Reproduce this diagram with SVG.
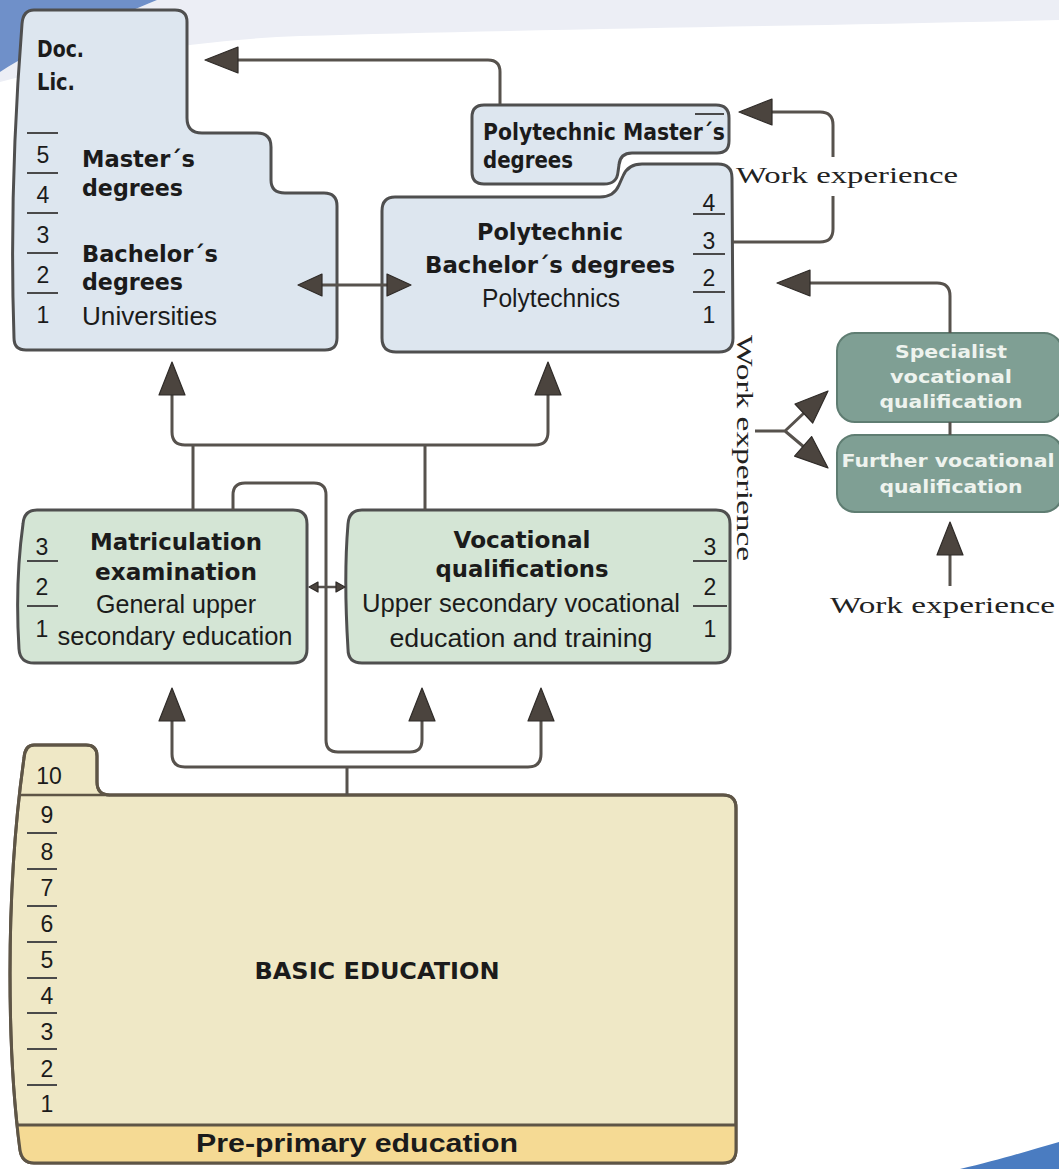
<svg xmlns="http://www.w3.org/2000/svg" xmlns:xlink="http://www.w3.org/1999/xlink" width="1059" height="1169" viewBox="0 0 1059 1169">
  <style>
    .box { stroke: #4f4f4f; stroke-width: 3; stroke-linejoin: round; }
    .uni { fill: #dde6ef; }
    .sec { fill: #d4e5d5; }
    .voc2 { fill: #7f9f94; stroke: #5f7d72; stroke-width: 2; }
    .basic { fill: #efe8c6; stroke: #5e5546; stroke-width: 3; }
    .tick { stroke: #4a4a4a; stroke-width: 2; }
    .con { fill: none; stroke: #57524d; stroke-width: 3; stroke-linejoin: round; }
    .head { fill: #4b443e; stroke: #2f2b28; stroke-width: 1.2; stroke-linejoin: round; }
    .b { font-family: "DejaVu Sans", "Liberation Sans", sans-serif; font-weight: bold; font-size: 23px; fill: #1b1b1b; }
    .r { font-family: "Liberation Sans", "DejaVu Sans", sans-serif; font-size: 26px; fill: #1b1b1b; }
    .n { font-family: "Liberation Sans", "DejaVu Sans", sans-serif; font-size: 23px; fill: #1b1b1b; text-anchor: middle; }
    .w { font-family: "DejaVu Sans", "Liberation Sans", sans-serif; font-weight: bold; font-size: 18px; fill: #eef3ee; text-anchor: middle; }
    .s { font-family: "Liberation Serif", "DejaVu Serif", serif; font-size: 23px; fill: #222; }
    .mid { text-anchor: middle; }
  </style>
  <defs>
    <!-- arrowheads, tip at the origin, pointing along +x -->
    <path id="ah" d="M0,0 L-33,-13 L-33,13 Z"/>
    <path id="ahm" d="M0,0 L-24,-11 L-24,11 Z"/>
    <path id="ahs" d="M0,0 L-9,-5 L-9,5 Z"/>
    <path id="basicShape" d="M34,745 L86,745 Q97,745 97,756 L97,782 Q97,795 110,795 L723,795 Q736,795 736,808 L736,1150 Q736,1163 723,1163 L34,1163 Q22,1163 20,1150 C8,1060 4,900 24,758 Q25,745 34,745 Z"/>
    <clipPath id="basicClip">
      <use xlink:href="#basicShape"/>
    </clipPath>
  </defs>

  <!-- background -->
  <rect width="1059" height="1169" fill="#ffffff"/>
  <path d="M157,0 L1059,0 L1059,20 C800,26 500,30 300,36 C200,40 100,55 0,82 L0,72 C40,45 110,20 157,0 Z" fill="#eceef5"/>
  <path d="M0,0 L157,0 C110,20 40,45 0,72 Z" fill="#6f90c9"/>
  <path d="M960,1169 C1000,1160 1030,1150 1059,1142 L1059,1169 Z" fill="#4a7cc1"/>

  <!-- universities -->
  <g id="universities">
    <path class="box uni" d="M34,10 L175,10 Q187,10 187,22 L187,118 Q187,133 202,133 L257,133 Q271,133 271,147 L271,180 Q271,193 285,193 L324,193 Q337,193 337,206 L337,338 Q337,350 325,350 L26,350 Q14,350 14,338 C10,220 16,100 22,24 Q23,10 34,10 Z"/>
    <text class="b" x="37" y="57" textLength="47" lengthAdjust="spacingAndGlyphs">Doc.</text>
    <text class="b" x="37" y="90" textLength="38" lengthAdjust="spacingAndGlyphs">Lic.</text>
    <g class="tick">
      <line x1="27" y1="133" x2="58" y2="133"/>
      <line x1="27" y1="173" x2="58" y2="173"/>
      <line x1="27" y1="213" x2="58" y2="213"/>
      <line x1="27" y1="253" x2="58" y2="253"/>
      <line x1="27" y1="293" x2="58" y2="293"/>
    </g>
    <text class="n" x="43" y="163">5</text>
    <text class="n" x="43" y="203">4</text>
    <text class="n" x="43" y="243">3</text>
    <text class="n" x="43" y="283">2</text>
    <text class="n" x="43" y="323">1</text>
    <text class="b" x="82" y="167" textLength="113" lengthAdjust="spacingAndGlyphs">Master´s</text>
    <text class="b" x="82" y="196" textLength="101" lengthAdjust="spacingAndGlyphs">degrees</text>
    <text class="b" x="82" y="262" textLength="136" lengthAdjust="spacingAndGlyphs">Bachelor´s</text>
    <text class="b" x="82" y="290" textLength="101" lengthAdjust="spacingAndGlyphs">degrees</text>
    <text class="r" x="82" y="325" textLength="135" lengthAdjust="spacingAndGlyphs">Universities</text>
  </g>

  <!-- polytechnic master's degrees -->
  <g id="poly-master">
    <path class="box uni" d="M484,105 L716,105 Q729,105 729,118 L729,141 Q729,153 717,153 L632,153 Q620,153 619,165 L618,172 Q617,184 604,184 L484,184 Q472,184 472,172 L472,117 Q472,105 484,105 Z"/>
    <line class="tick" x1="695" y1="114" x2="724" y2="114"/>
    <text class="b" x="483" y="140" textLength="242" lengthAdjust="spacingAndGlyphs">Polytechnic Master´s</text>
    <text class="b" x="483" y="168" textLength="90" lengthAdjust="spacingAndGlyphs">degrees</text>
  </g>

  <!-- polytechnics -->
  <g id="polytechnics">
    <path class="box uni" d="M395,197 L600,197 Q614,197 619,185 L623,176 Q628,164 642,164 L718,164 Q732,164 732,178 L733,338 Q733,352 719,352 L396,352 Q382,352 382,338 L382,211 Q382,197 395,197 Z"/>
    <g class="tick">
      <line x1="693" y1="214" x2="725" y2="214"/>
      <line x1="693" y1="254" x2="725" y2="254"/>
      <line x1="693" y1="292" x2="725" y2="292"/>
    </g>
    <text class="n" x="709" y="211">4</text>
    <text class="n" x="709" y="249">3</text>
    <text class="n" x="709" y="286">2</text>
    <text class="n" x="709" y="323">1</text>
    <text class="b mid" x="550" y="240" textLength="146" lengthAdjust="spacingAndGlyphs">Polytechnic</text>
    <text class="b mid" x="550" y="273" textLength="250" lengthAdjust="spacingAndGlyphs">Bachelor´s degrees</text>
    <text class="r mid" x="551" y="307" textLength="138" lengthAdjust="spacingAndGlyphs">Polytechnics</text>
  </g>

  <!-- work experience labels -->
  <text class="s" x="736" y="183" textLength="222" lengthAdjust="spacingAndGlyphs">Work experience</text>
  <text class="s" transform="translate(737,335) rotate(90)" x="0" y="0" textLength="226" lengthAdjust="spacingAndGlyphs">Work experience</text>
  <text class="s" x="830" y="613" textLength="225" lengthAdjust="spacingAndGlyphs">Work experience</text>

  <!-- specialist vocational qualification -->
  <g id="specialist">
    <rect class="voc2" x="837" y="333" width="225" height="89" rx="18"/>
    <text class="w" x="951" y="358" textLength="112" lengthAdjust="spacingAndGlyphs">Specialist</text>
    <text class="w" x="951" y="383" textLength="122" lengthAdjust="spacingAndGlyphs">vocational</text>
    <text class="w" x="951" y="408" textLength="143" lengthAdjust="spacingAndGlyphs">qualification</text>
  </g>

  <!-- further vocational qualification -->
  <g id="further">
    <rect class="voc2" x="837" y="435" width="225" height="77" rx="18"/>
    <text class="w" x="948" y="467" textLength="213" lengthAdjust="spacingAndGlyphs">Further vocational</text>
    <text class="w" x="951" y="493" textLength="143" lengthAdjust="spacingAndGlyphs">qualification</text>
  </g>

  <!-- general upper secondary -->
  <g id="matriculation">
    <path class="box sec" d="M37,510 L293,510 Q307,510 307,524 L307,649 Q307,663 293,663 L34,663 Q20,663 19,649 C16,600 18,560 23,524 Q24,510 37,510 Z"/>
    <g class="tick">
      <line x1="27" y1="561" x2="58" y2="561"/>
      <line x1="27" y1="606" x2="58" y2="606"/>
    </g>
    <text class="n" x="42" y="555">3</text>
    <text class="n" x="42" y="595">2</text>
    <text class="n" x="42" y="637">1</text>
    <text class="b mid" x="176" y="550" textLength="172" lengthAdjust="spacingAndGlyphs">Matriculation</text>
    <text class="b mid" x="176" y="580" textLength="162" lengthAdjust="spacingAndGlyphs">examination</text>
    <text class="r mid" x="176" y="613" textLength="160" lengthAdjust="spacingAndGlyphs">General upper</text>
    <text class="r mid" x="175" y="645" textLength="235" lengthAdjust="spacingAndGlyphs">secondary education</text>
  </g>

  <!-- vocational upper secondary -->
  <g id="vocational">
    <path class="box sec" d="M362,510 L716,510 Q730,510 730,524 L730,649 Q730,663 716,663 L362,663 Q348,663 348,649 C345,600 345,560 348,524 Q349,510 362,510 Z"/>
    <g class="tick">
      <line x1="693" y1="561" x2="727" y2="561"/>
      <line x1="693" y1="606" x2="727" y2="606"/>
    </g>
    <text class="n" x="710" y="555">3</text>
    <text class="n" x="710" y="595">2</text>
    <text class="n" x="710" y="637">1</text>
    <text class="b mid" x="522" y="548" textLength="137" lengthAdjust="spacingAndGlyphs">Vocational</text>
    <text class="b mid" x="522" y="577" textLength="173" lengthAdjust="spacingAndGlyphs">qualifications</text>
    <text class="r mid" x="521" y="612" textLength="318" lengthAdjust="spacingAndGlyphs">Upper secondary vocational</text>
    <text class="r mid" x="521" y="647" textLength="263" lengthAdjust="spacingAndGlyphs">education and training</text>
  </g>

  <!-- basic education with pre-primary band -->
  <g id="basic-education">
    <use xlink:href="#basicShape" class="basic"/>
    <rect x="0" y="1125" width="740" height="44" fill="#f5da94" clip-path="url(#basicClip)"/>
    <line x1="0" y1="1125" x2="740" y2="1125" stroke="#5e5546" stroke-width="3" clip-path="url(#basicClip)"/>
    <line x1="0" y1="795" x2="110" y2="795" stroke="#5e5546" stroke-width="2.5" clip-path="url(#basicClip)"/>
    <use xlink:href="#basicShape" fill="none" stroke="#5e5546" stroke-width="3"/>
    <g class="tick">
      <line x1="27" y1="833" x2="57" y2="833"/>
      <line x1="27" y1="869" x2="57" y2="869"/>
      <line x1="27" y1="906" x2="57" y2="906"/>
      <line x1="27" y1="942" x2="57" y2="942"/>
      <line x1="27" y1="978" x2="57" y2="978"/>
      <line x1="27" y1="1013" x2="57" y2="1013"/>
      <line x1="27" y1="1049" x2="57" y2="1049"/>
      <line x1="27" y1="1085" x2="57" y2="1085"/>
    </g>
    <text class="n" x="49" y="784">10</text>
    <text class="n" x="47" y="823">9</text>
    <text class="n" x="47" y="860">8</text>
    <text class="n" x="47" y="896">7</text>
    <text class="n" x="47" y="932">6</text>
    <text class="n" x="47" y="968">5</text>
    <text class="n" x="47" y="1004">4</text>
    <text class="n" x="47" y="1040">3</text>
    <text class="n" x="47" y="1077">2</text>
    <text class="n" x="47" y="1112">1</text>
    <text class="b mid" x="377" y="979" textLength="245" lengthAdjust="spacingAndGlyphs">BASIC EDUCATION</text>
    <text class="r mid" x="357" y="1152" textLength="322" lengthAdjust="spacingAndGlyphs" style="font-weight:bold">Pre-primary education</text>
  </g>

  <!-- connectors, drawn last so arrowheads sit over the node fills -->
  <g id="connectors">
    <path class="con" d="M500,104 L500,72 Q500,60 488,60 L232,60"/>
    <use xlink:href="#ah" class="head" transform="translate(205,60) rotate(180)"/>

    <path class="con" d="M733,242 L820,242 Q833,242 833,229 L833,196 M833,157 L833,125 Q833,112 820,112 L768,112"/>
    <use xlink:href="#ah" class="head" transform="translate(739,112) rotate(180)"/>

    <path class="con" d="M950,333 L950,296 Q950,283 937,283 L805,283"/>
    <use xlink:href="#ah" class="head" transform="translate(777,283) rotate(180)"/>

    <path class="con" d="M950,422 L950,435"/>
    <path class="con" d="M950,586 L950,552"/>
    <use xlink:href="#ah" class="head" transform="translate(950,522) rotate(-90)"/>

    <path class="con" d="M755,431 L785,431 L804,413 M785,431 L804,447"/>
    <use xlink:href="#ah" class="head" transform="translate(828,391) rotate(-43)"/>
    <use xlink:href="#ah" class="head" transform="translate(828,468) rotate(41)"/>

    <path class="con" d="M318,285 L392,285"/>
    <use xlink:href="#ahm" class="head" transform="translate(298,285) rotate(180)"/>
    <use xlink:href="#ahm" class="head" transform="translate(411,285)"/>

    <path class="con" d="M193,510 L193,445 M425,510 L425,445 M172,394 L172,432 Q172,445 185,445 L535,445 Q548,445 548,432 L548,394"/>
    <use xlink:href="#ah" class="head" transform="translate(172,362) rotate(-90)"/>
    <use xlink:href="#ah" class="head" transform="translate(548,362) rotate(-90)"/>

    <path class="con" d="M315,587 L338,587" style="stroke-width:2.5"/>
    <use xlink:href="#ahs" class="head" transform="translate(309,587) rotate(180)"/>
    <use xlink:href="#ahs" class="head" transform="translate(345,587)"/>

    <path class="con" d="M233,510 L233,495 Q233,483 245,483 L314,483 Q326,483 326,495 L326,740 Q326,752 338,752 L410,752 Q422,752 422,740 L422,718"/>
    <use xlink:href="#ah" class="head" transform="translate(422,688) rotate(-90)"/>

    <path class="con" d="M347,795 L347,767 M172,718 L172,754 Q172,767 185,767 L528,767 Q541,767 541,754 L541,718"/>
    <use xlink:href="#ah" class="head" transform="translate(172,688) rotate(-90)"/>
    <use xlink:href="#ah" class="head" transform="translate(541,688) rotate(-90)"/>
  </g>
</svg>
